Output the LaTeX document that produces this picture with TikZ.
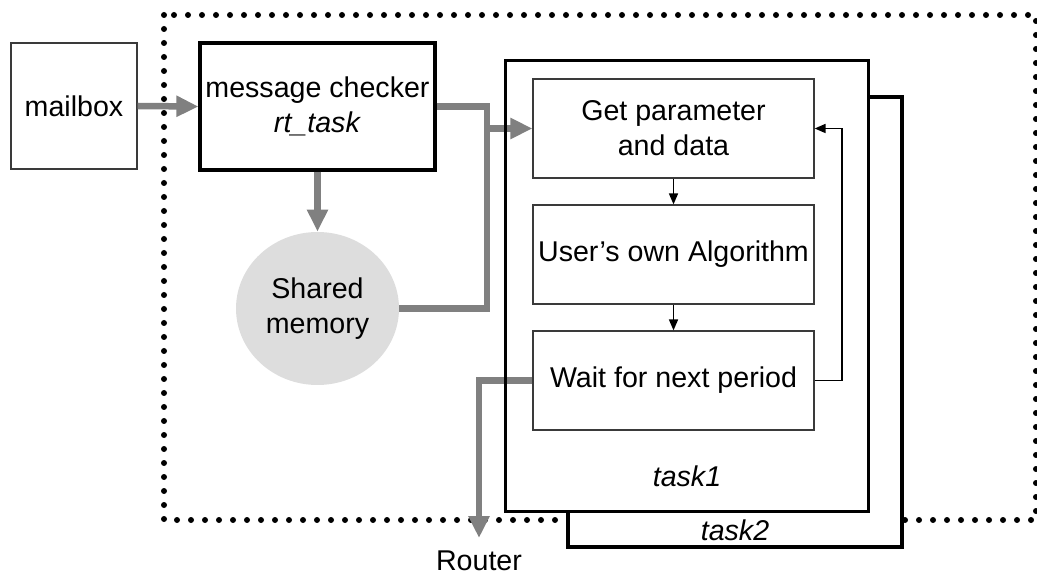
\documentclass[tikz,border=0pt]{standalone}
\usepackage{fontspec}
\setmainfont{Liberation Sans}
\usetikzlibrary{arrows.meta,shapes.geometric}
\definecolor{flowgray}{HTML}{808080}
\definecolor{memfill}{HTML}{DDDDDD}
\definecolor{boxline}{HTML}{3A3A3A}
\begin{document}
\begin{tikzpicture}[x=0.5pt,y=-0.5pt,
  every node/.style={font=\fontsize{14.3pt}{17.5pt}\selectfont, align=center, inner sep=0pt},
  thinbox/.style={draw=boxline, line width=0.6pt, fill=white, rectangle},
  thickbox/.style={draw=black, line width=1.6pt, fill=white, rectangle},
  stepbox/.style={thinbox, minimum width=140.5pt, minimum height=49.5pt},
  gline/.style={draw=flowgray, line width=3.25pt, line join=miter},
  garrow/.style={gline, -{Triangle[length=11pt,width=10pt]}},
  sarrow/.style={draw=black, line width=0.8pt, -{Triangle[length=5.5pt,width=4.5pt]}},
  frame/.style={draw=black, line width=3pt, line cap=round, dash pattern=on 0pt off 7pt}
]
\useasboundingbox (0,0) rectangle (1037,576);

% boundary of the real-time part
\draw[frame] (164,15) rectangle (1036,520);

% external mailbox and message checker
\node[thinbox, minimum width=63pt, minimum height=63pt] (mailbox) at (74,106) {mailbox};
\node[thickbox, minimum width=117.5pt, minimum height=63.5pt] (checker) at (317.5,106.5)
  {message checker\\\textit{rt\_task}};
\node[ellipse, fill=memfill, minimum width=81.5pt, minimum height=76.5pt] (memory) at (317.5,308.5)
  {Shared\\memory};

% periodic tasks (task2 lies behind task1)
\node[thickbox, minimum width=167pt, minimum height=225pt] (task2) at (735,322) {};
\node[rectangle, fill=white, minimum width=181pt, minimum height=225pt] (task1) at (687,286) {};
\node (task2label) at (735,530) {\textit{task2}};

% data paths into and out of the task
\coordinate (bus) at (487,128.5);
\draw[gline] (checker.east) -| (bus) |- (memory.east);
\draw[garrow] (mailbox.east) -- (checker.west);
\draw[garrow] (checker.south) -- (memory.north);

\node[stepbox] (getparam) at (673.5,128.5) {Get parameter\\and data};
\node[stepbox] (algo) at (673.5,254.5) {User’s own Algorithm};
\node[stepbox] (wait) at (673.5,380.5) {Wait for next period};

\draw[garrow] (bus) -- (getparam.west);

\node (router) at (479,561) {Router};
\coordinate (routerin) at (479,538);
\draw[garrow] (wait.west) -| (routerin);

% task1 outline on top of the data paths
\draw[draw=black, line width=1.75pt] (task1.north west) rectangle (task1.south east);
\node (task1label) at (687,476) {\textit{task1}};

% control flow inside the task
\draw[sarrow] (getparam.south) -- (algo.north);
\draw[sarrow] (algo.south) -- (wait.north);
\coordinate (loop) at (842,128.5);
\draw[sarrow] (wait.east) -| (loop) -- (getparam.east);
\end{tikzpicture}
\end{document}
